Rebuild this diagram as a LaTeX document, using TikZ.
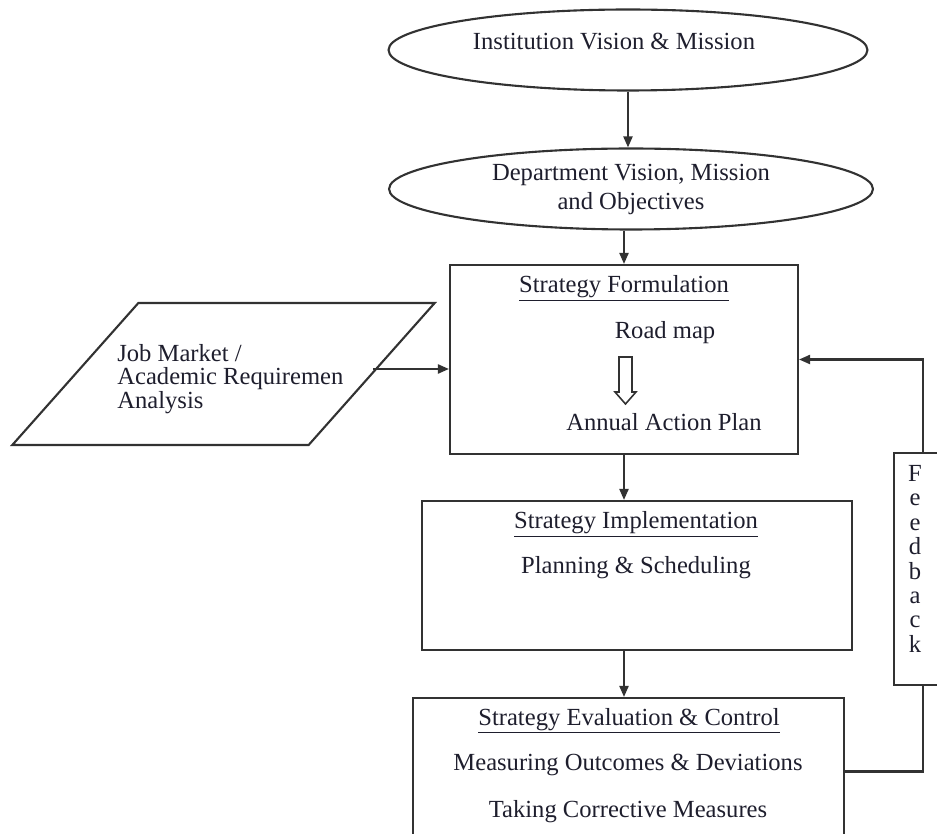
\documentclass[tikz,border=0pt]{standalone}
\usepackage{fontspec}
\setmainfont{Liberation Serif}
\usetikzlibrary{shapes.geometric,arrows.meta}
\definecolor{linec}{RGB}{50,50,50}
\definecolor{textc}{RGB}{30,30,45}
\tikzset{
  line/.style={draw=linec, line width=1.2pt},
  arr/.style={line, -{Triangle[length=2.2mm,width=1.8mm]}},
  oval/.style={ellipse, line, inner sep=0pt},
  boxnode/.style={rectangle, line, inner sep=0pt},
  txt/.style={anchor=base, inner sep=0pt, text=textc, font=\fontsize{14}{16.5}\selectfont},
}
\begin{document}
\begin{tikzpicture}[x=0.02cm, y=-0.02cm]
            \useasboundingbox (0,0) rectangle (937,834);
            % 椭圆
            \node[oval, minimum width=9.58cm, minimum height=1.62cm] (iv) at (628,50) {};
            \node[txt] (ivtext) at (614,50) {Institution Vision \& Mission};
            \node[oval, minimum width=9.68cm, minimum height=1.62cm, align=center, text=textc, font=\fontsize{14}{16.5}\selectfont] (dv) at (631,189) {Department Vision, Mission\\and Objectives};
            % 平行四边形
            \node[trapezium, trapezium left angle=53.5, trapezium right angle=126.5, trapezium stretches=true, line, minimum width=8.46cm, minimum height=2.84cm] (job) at (223.5,374) {};
            \node[txt, align=left, anchor=north west, font=\fontsize{14}{13.4}\selectfont] (jobtext) at (117,344) {Job Market /\\Academic Requiremen\\Analysis};
            % 方框
            \node[boxnode, minimum width=6.96cm, minimum height=3.78cm] (sf) at (624,359.5) {};
            \node[boxnode, minimum width=8.6cm, minimum height=2.98cm] (si) at (637,575.5) {};
            \node[boxnode, minimum width=8.62cm, minimum height=2.94cm] (sec) at (628.5,771.5) {};
            \node[boxnode, minimum width=1.16cm, minimum height=4.64cm] (fb) at (923,569) {};
            % 文字
            \node[txt] (sftitle) at (624,293) {\underline{Strategy Formulation}};
            \node[txt] (roadmap) at (665,339) {Road map};
            \node[txt] (actionplan) at (664,431) {Annual Action Plan};
            \node[txt] (sititle) at (636,529) {\underline{Strategy Implementation}};
            \node[txt] (siplan) at (636,574) {Planning \& Scheduling};
            \node[txt] (sectitle) at (629,725) {\underline{Strategy Evaluation \& Control}};
            \node[txt] (secmeas) at (628,770) {Measuring Outcomes \& Deviations};
            \node[txt] (seccorr) at (628,817) {Taking Corrective Measures};
            \node[txt, align=center, anchor=north, font=\fontsize{14}{13.9}\selectfont] (fbtext) at (915,465) {F\\e\\e\\d\\b\\a\\c\\k};
            % 空心箭头
            \coordinate (rm) at (625,357);
            \draw[line, line width=0.9pt] (rm) ++(-6,0) -- ++(0,35) -- ++(-4,0) -- ++(10.5,12) -- ++(10.5,-12) -- ++(-4,0) -- ++(0,-35) -- cycle;
            % 连线
            \draw[arr] (iv.south) -- (iv.south |- dv.north);
            \draw[arr] (sf.north |- dv.south) -- (sf.north);
            \draw[arr] ([yshift=0.1cm]job.east) -- ([yshift=0.1cm]job.east -| sf.west);
            \draw[arr] (sf.south) -- (sf.south |- si.north);
            \draw[arr] (sf.south |- si.south) -- (sf.south |- sec.north);
            \draw[line] (sec.east) -| (fb.south);
            \draw[arr] (fb.north) |- (sf.east);
        \end{tikzpicture}
\end{document}
